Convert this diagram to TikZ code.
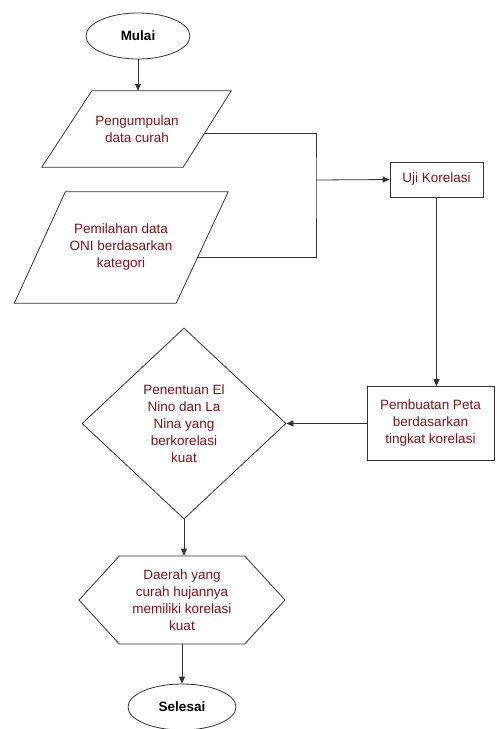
\documentclass[tikz,border=0pt]{standalone}
\usepackage{fontspec}
\setmainfont{Liberation Sans}
\definecolor{labelred}{RGB}{120, 20, 25}
\definecolor{lineblack}{RGB}{50, 50, 50}
\usetikzlibrary{arrows.meta, shapes.geometric, shapes.symbols, calc}

\begin{document}
\begin{tikzpicture}[x=1pt, y=-1pt,
    every node/.style={font=\fontsize{13.5}{17}\selectfont, align=center, inner sep=0pt},
    flowline/.style={lineblack, line width=0.8pt},
    arr/.style={flowline, -{Triangle[length=7pt, width=6pt]}},
    terminal/.style={ellipse, draw=lineblack, line width=0.8pt, font=\fontsize{13.5}{17}\selectfont\bfseries},
    datain/.style={rectangle, text=labelred},
    process/.style={rectangle, draw=lineblack, line width=0.8pt, text=labelred},
    decision/.style={diamond, draw=lineblack, line width=0.8pt, text=labelred},
    result/.style={signal, signal to=west and east, signal pointer angle=95, draw=lineblack, line width=0.8pt, text=labelred}]
  \useasboundingbox (0,0) rectangle (496,729);

  % Start and input data
  \node[terminal, minimum width=104pt, minimum height=46pt] (mulai) at (138,36) {Mulai};
  \node[datain, minimum width=140pt, minimum height=76pt] (ambil) at (137,129) {Pengumpulan\\data curah};
  \node[datain, minimum width=162pt, minimum height=111pt] (pilah) at (121,247.5) {Pemilahan data\\ONI berdasarkan\\kategori};
  % Parallelogram outlines
  \draw[flowline] ($(ambil.north west)+(25,0)$) -- ($(ambil.north east)+(24,0)$)
    -- ($(ambil.south east)+(-24,0)$) -- ($(ambil.south west)+(-25,0)$) -- cycle;
  \draw[flowline] ($(pilah.north west)+(25.5,0)$) -- ($(pilah.north east)+(26,0)$)
    -- ($(pilah.south east)+(-26,0)$) -- ($(pilah.south west)+(-25.5,0)$) -- cycle;

  % Processing
  \node[process, minimum width=93pt, minimum height=35pt] (uji) at (436.5,179.5) {Uji Korelasi};
  \node[process, minimum width=127pt, minimum height=74pt] (peta) at (430.5,423.5) {Pembuatan Peta\\berdasarkan\\tingkat korelasi};
  \node[decision, minimum width=204pt, minimum height=191pt] (tentu) at (184,423.5) {Penentuan El\\Nino dan La\\Nina yang\\berkorelasi\\kuat};

  % Result and end
  \node[result, minimum width=206pt, minimum height=88pt] (daerah) at (182,600) {Daerah yang\\curah hujannya\\memiliki korelasi\\kuat};
  \node[terminal, minimum width=108pt, minimum height=46pt] (selesai) at (182,707) {Selesai};

  % Connectors
  \coordinate (gabung) at (316,180);
  \draw[arr] (mulai.south) -- (mulai.south |- ambil.north);
  \draw[flowline] ($(ambil.east)+(-2.5,4)$) -| (gabung) |- ($(pilah.east)+(-4.5,9.5)$);
  \draw[arr] (gabung) -- (uji.west);
  \draw[arr] (uji.south) -- (uji.south |- peta.north);
  \draw[arr] (peta.west) -- (tentu.east);
  \draw[arr] (tentu.south) -- (tentu.south |- daerah.north);
  \draw[arr] (daerah.south) -- (selesai.north);
\end{tikzpicture}
\end{document}
